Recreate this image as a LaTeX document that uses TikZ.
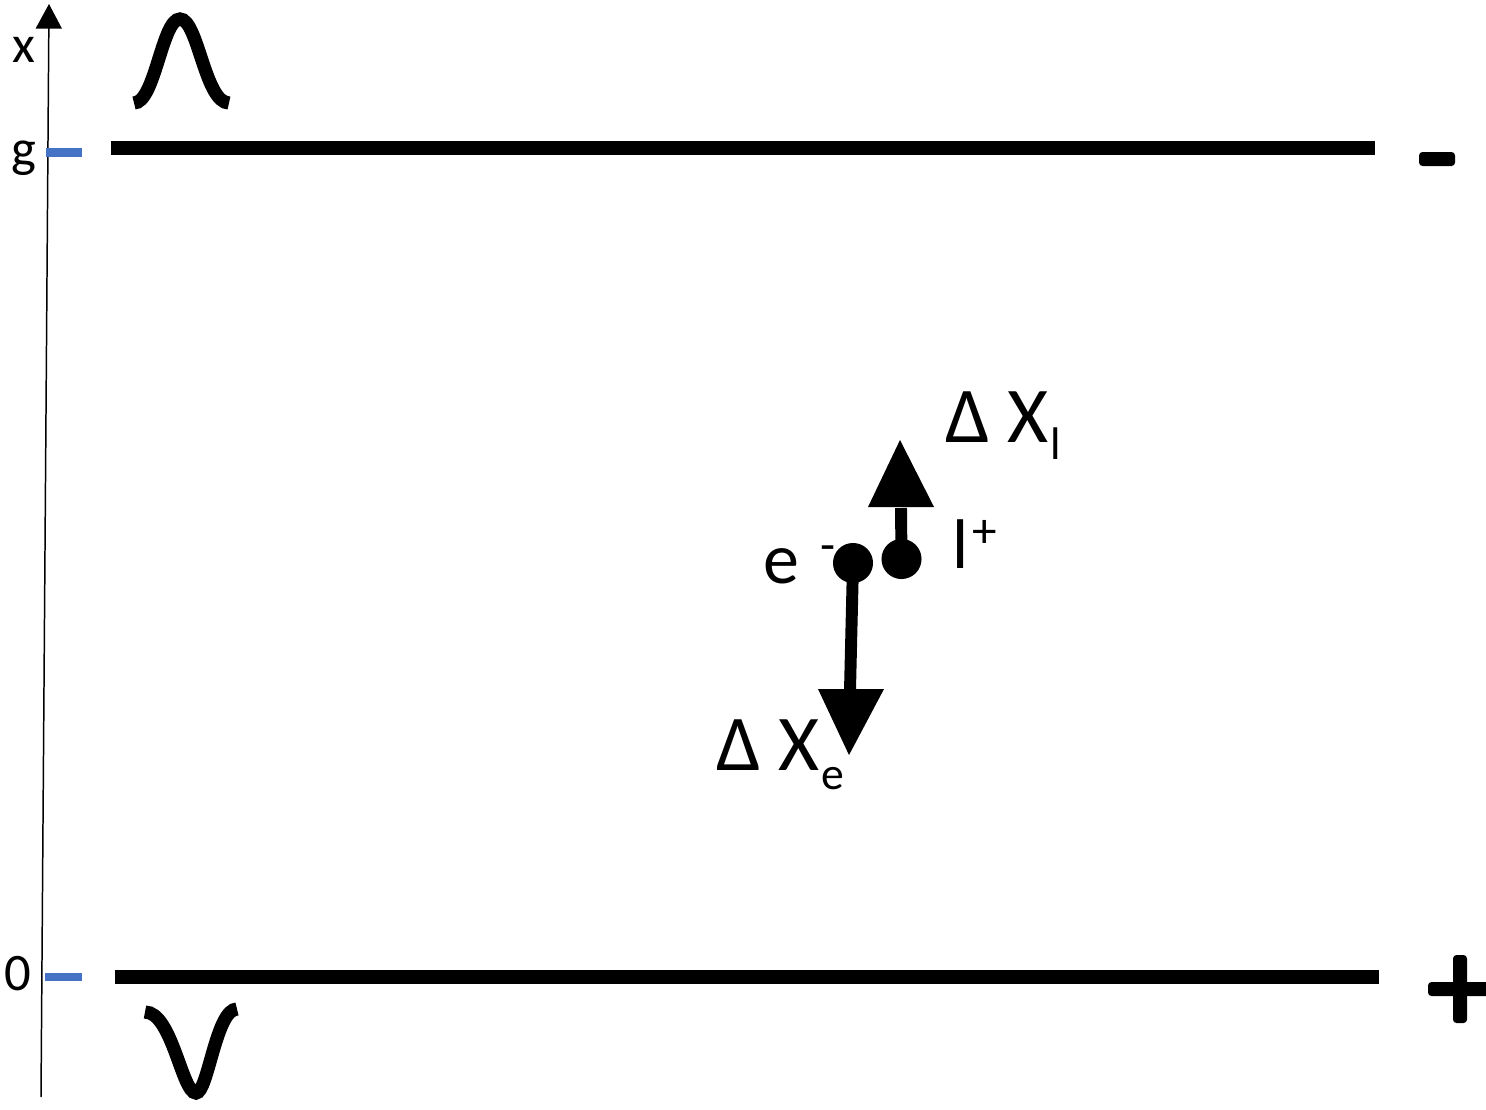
\documentclass[tikz,border=0pt]{standalone}
\usepackage{fontspec}
\setmainfont{Carlito}
\usetikzlibrary{arrows.meta}
\definecolor{tickblue}{HTML}{4472C4}
\begin{document}
\begin{tikzpicture}[x=0.02cm,y=-0.02cm,
  plate/.style={line width=8.5pt},
  tickmark/.style={draw=tickblue,line width=5pt},
  axislbl/.style={inner sep=0pt,anchor=base,font=\fontsize{30}{30}\selectfont},
  curvestroke/.style={line width=7.5pt},
  particle/.style={circle,fill=black,inner sep=0pt,minimum size=22.8pt},
  shaft/.style={line width=6.8pt},
  bigtxt/.style={inner sep=0pt,anchor=base,font=\fontsize{41}{41}\selectfont},
  medtxt/.style={inner sep=0pt,anchor=base,font=\fontsize{40}{40}\selectfont},
  suptxt/.style={inner sep=0pt,anchor=base,font=\fontsize{28}{28}\selectfont},
  deltatxt/.style={inner sep=0pt,anchor=base west,font=\fontsize{45}{45}\selectfont}]
\useasboundingbox (0,0) rectangle (1486,1109);
% axis
\coordinate (axb) at (41,1097);
\coordinate (axt) at (49,4);
\draw[line width=0.85pt,-{Triangle[width=14.8pt,length=14pt]}] (axb) -- (axt);
\node[axislbl] (xl) at (24,62) {x};
\node[axislbl] (gl) at (24,166) {g};
\node[axislbl] (zl) at (17.5,990) {0};
% ticks
\coordinate (gt1) at (46,152.5); \coordinate (gt2) at (82,152.5);
\coordinate (zt1) at (45,977); \coordinate (zt2) at (82,977);
\draw[tickmark] (gt1) -- (gt2);
\draw[tickmark] (zt1) -- (zt2);
% plates
\coordinate (tp1) at (111,148); \coordinate (tp2) at (1375,148);
\coordinate (bp1) at (115,977); \coordinate (bp2) at (1379,977);
\draw[plate] (tp1) -- (tp2);
\draw[plate] (bp1) -- (bp2);
% signs
\fill[rounded corners=2pt] (1419,152) rectangle (1455,166);
\fill[rounded corners=2pt] (1453,955) rectangle (1467,1023);
\fill[rounded corners=2pt] (1428,982) rectangle (1492,996);
% bell curves
\draw[curvestroke] (134,103) .. controls (155,103) and (162,19) .. (180,19)
  .. controls (198,19) and (205,103) .. (229,103);
\draw[curvestroke] (145,1012) .. controls (172,1012) and (182,1093) .. (196,1093)
  .. controls (208,1093) and (216,1009) .. (237,1009);
% particles
\node[particle] (ep) at (853,563) {};
\node[particle] (lp) at (901.5,559) {};
\coordinate (lpb) at (901,508);
\coordinate (epb) at (850,690);
\draw[shaft] (lp.center) -- (lpb);
\draw[shaft] (ep.center) -- (epb);
\fill (868,507) -- (934,507) -- (900,440) -- cycle;
\fill (818,689) -- (884,689) -- (849,755) -- cycle;
% labels
\node[bigtxt] (el) at (781,583) {e};
\node[suptxt] (em) at (828,561) {-};
\node[medtxt] (ll) at (961,568) {l};
\node[suptxt] (lpl) at (985,547) {+};
\node[deltatxt] (dxl) at (945,442) {Δ X\kern1pt\raisebox{-10pt}{\fontsize{26}{26}\selectfont l}};
\node[deltatxt] (dxe) at (716,770) {Δ X\kern1pt\raisebox{-11pt}{\fontsize{26}{26}\selectfont e}};
\end{tikzpicture}
\end{document}
